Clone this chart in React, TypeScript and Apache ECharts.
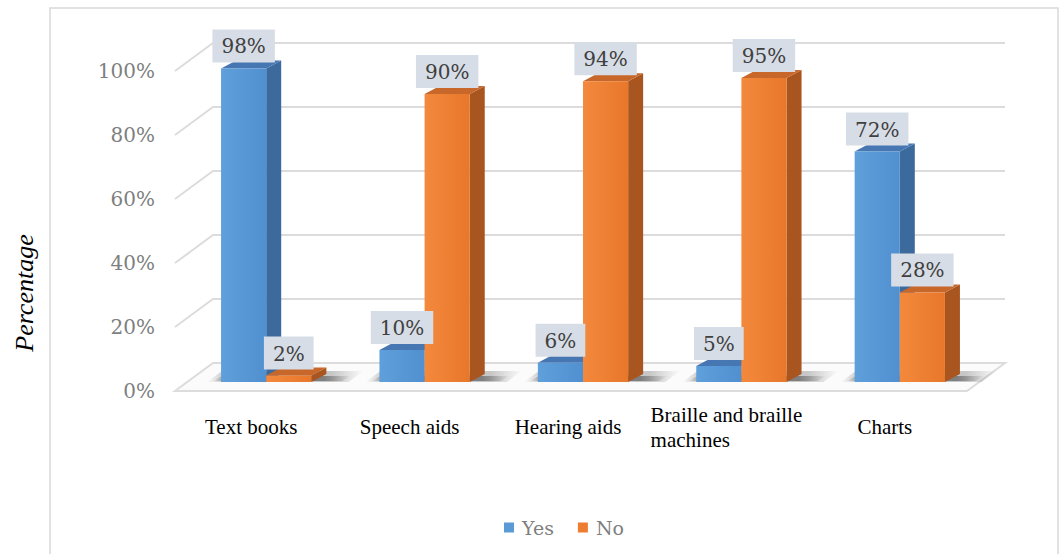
import React, { useEffect, useRef } from 'react';
import * as echarts from 'echarts';

const categories = ['Text books', 'Speech aids', 'Hearing aids', 'Braille and braille\nmachines', 'Charts'];
const yesValues = [98, 10, 6, 5, 72];
const noValues = [2, 90, 94, 95, 28];
const yTicks = [0, 20, 40, 60, 80, 100];
const seriesNames = ['Yes', 'No'];
const axisName = 'Percentage';

const SERIF = 'Liberation Serif';
const WIDE = 'DejaVu Serif';
const COLORS = [
  { front: ['#5f9fdb', '#5090d0'], top: '#4677b3', side: '#3c6a9d', legend: '#5b9bd5' },
  { front: ['#f3893d', '#e8772a'], top: '#c7672a', side: '#a9551f', legend: '#ed7d31' },
];
const DEPTH = { dx: 15, dy: -8 };
const FRONT = { dx: -12, dy: 9 };
const BACK = { dx: 26, dy: -19 };
const GRID_COLOR = '#dcdcdc';

function barGeom(api: any, side: number) {
  const cat = api.value(0);
  const val = api.value(1);
  const band = api.size([1, 0])[0];
  const w = band * 0.285;
  const [cx, yTop] = api.coord([cat, val]);
  const yBase = api.coord([cat, 0])[1];
  const x0 = side === 0 ? cx - w : cx;
  return { x0, x1: x0 + w, yTop, yBase, w, val };
}

export default function App() {
  const ref = useRef<HTMLDivElement>(null);
  useEffect(() => {
    if (!ref.current) return;
    const chart = echarts.init(ref.current, undefined, { renderer: 'svg' });

    const wallRender = (params: any, api: any) => {
      const v = api.value(1);
      const cs = params.coordSys;
      const y = api.coord([0, v])[1];
      const xl = cs.x;
      const xr = cs.x + cs.width;
      if (v === 0) {
        return {
          type: 'polygon',
          shape: {
            points: [
              [xl + FRONT.dx, y + FRONT.dy],
              [xr + FRONT.dx, y + FRONT.dy],
              [xr + BACK.dx, y + BACK.dy],
              [xl + BACK.dx, y + BACK.dy],
            ],
          },
          style: { fill: '#fbfbfb', stroke: GRID_COLOR, lineWidth: 2 },
        };
      }
      return {
        type: 'polyline',
        shape: {
          points: [
            [xl + FRONT.dx, y + FRONT.dy],
            [xl + BACK.dx, y + BACK.dy],
            [xr + BACK.dx, y + BACK.dy],
          ],
        },
        style: { stroke: GRID_COLOR, lineWidth: 2, fill: 'none' },
      };
    };

    const shadowRender = (params: any, api: any) => {
      const cat = api.value(0);
      const band = api.size([1, 0])[0];
      const w = band * 0.285;
      const [cx, yBase] = api.coord([cat, 0]);
      const x0 = cx - w - 14;
      const x1 = cx + w + DEPTH.dx + 22;
      const grad = (a: number) =>
        new echarts.graphic.LinearGradient(0, 0, 1, 0, [
          { offset: 0, color: 'rgba(40,40,40,0)' },
          { offset: 0.12, color: `rgba(40,40,40,${a})` },
          { offset: 0.8, color: `rgba(40,40,40,${a})` },
          { offset: 1, color: 'rgba(40,40,40,0)' },
        ]);
      return {
        type: 'group',
        children: [
          {
            type: 'polygon',
            shape: {
              points: [
                [x0, yBase],
                [x1, yBase],
                [x1 + DEPTH.dx, yBase + DEPTH.dy - 3],
                [x0 + DEPTH.dx, yBase + DEPTH.dy - 3],
              ],
            },
            style: { fill: grad(0.25) },
          },
          {
            type: 'polygon',
            shape: {
              points: [
                [x0 + 6, yBase - 1],
                [x1 - 6, yBase - 1],
                [x1 - 6 + DEPTH.dx * 0.6, yBase - 6],
                [x0 + 6 + DEPTH.dx * 0.6, yBase - 6],
              ],
            },
            style: { fill: grad(0.45) },
          },
        ],
      };
    };

    const makeBarRender = (side: number) => (params: any, api: any) => {
      const g = barGeom(api, side);
      const c = COLORS[side];
      const { x0, x1, yTop, yBase, w } = g;
      return {
        type: 'group',
        children: [
          {
            type: 'polygon',
            shape: {
              points: [
                [x1, yTop],
                [x1 + DEPTH.dx, yTop + DEPTH.dy],
                [x1 + DEPTH.dx, yBase + DEPTH.dy],
                [x1, yBase],
              ],
            },
            style: { fill: c.side },
          },
          {
            type: 'polygon',
            shape: {
              points: [
                [x0, yTop],
                [x1, yTop],
                [x1 + DEPTH.dx, yTop + DEPTH.dy],
                [x0 + DEPTH.dx, yTop + DEPTH.dy],
              ],
            },
            style: { fill: c.top },
          },
          {
            type: 'rect',
            shape: { x: x0, y: yTop, width: w, height: yBase - yTop },
            style: {
              fill: new echarts.graphic.LinearGradient(0, 0, 1, 0, [
                { offset: 0, color: c.front[0] },
                { offset: 1, color: c.front[1] },
              ]),
            },
          },
        ],
      };
    };

    const labelRender = (params: any, api: any) => {
      const side = api.value(2);
      const g = barGeom(api, side);
      return {
        type: 'text',
        x: (g.x0 + g.x1) / 2,
        y: g.yTop - 6,
        style: {
          text: g.val + '%',
          fill: '#404040',
          font: '20px DejaVu Serif',
          align: 'center',
          verticalAlign: 'bottom',
          backgroundColor: '#d7dde6',
          padding: [7, 9, 6, 9],
        },
      };
    };

    const labelData: any[] = [];
    yesValues.forEach((v, i) => labelData.push([i, v, 0]));
    noValues.forEach((v, i) => labelData.push([i, v, 1]));

    chart.setOption({
      animation: false,
      backgroundColor: '#ffffff',
      textStyle: { fontFamily: SERIF },
      graphic: [
        {
          type: 'rect',
          shape: { x: 50, y: 8, width: 1008, height: 600 },
          style: { fill: 'none', stroke: '#d9d9d9', lineWidth: 1.5 },
          silent: true,
        },
        {
          type: 'text',
          x: 24,
          y: 293,
          rotation: Math.PI / 2,
          style: {
            text: axisName,
            fill: '#000000',
            font: 'italic 26px Liberation Serif',
            align: 'center',
            verticalAlign: 'middle',
          },
        },
      ],
      legend: {
        data: seriesNames,
        left: 499,
        top: 513,
        itemWidth: 10,
        itemHeight: 10,
        itemGap: 24,
        icon: 'rect',
        textStyle: { fontFamily: WIDE, fontSize: 19, color: '#7f7f7f', padding: [0, 0, 0, 3] },
      },
      grid: [
        { left: 187, right: 82, top: 62, bottom: 172 },
        { left: 172, right: 97, top: 71, bottom: 163 },
      ],
      xAxis: [
        { type: 'category', data: categories, gridIndex: 0, show: false },
        {
          type: 'category',
          data: categories,
          gridIndex: 1,
          axisLine: { show: false },
          axisTick: { show: false },
          axisLabel: {
            interval: 0,
            margin: 36,
            verticalAlign: 'middle',
            formatter: (v: string) => v.split('\n').map((s) => `{l|${s}}`).join('\n'),
            rich: {
              l: { align: 'left', fontSize: 21, fontFamily: SERIF, color: '#000000', lineHeight: 25 },
            },
          },
        },
      ],
      yAxis: [
        { type: 'value', min: 0, max: 100, gridIndex: 0, show: false },
        {
          type: 'value',
          min: 0,
          max: 100,
          interval: 20,
          gridIndex: 1,
          axisLine: { show: false },
          axisTick: { show: false },
          splitLine: { show: false },
          axisLabel: {
            formatter: '{value}%',
            margin: 17,
            fontSize: 20,
            color: '#7f7f7f',
            fontFamily: WIDE,
          },
        },
      ],
      series: [
        {
          type: 'custom',
          name: 'wall',
          xAxisIndex: 0,
          yAxisIndex: 0,
          z: 0,
          silent: true,
          renderItem: wallRender,
          data: yTicks.map((v) => [0, v]),
        },
        {
          type: 'custom',
          name: 'shadow',
          xAxisIndex: 0,
          yAxisIndex: 0,
          z: 1,
          silent: true,
          renderItem: shadowRender,
          data: categories.map((_, i) => [i, 0]),
        },
        {
          type: 'custom',
          name: seriesNames[0],
          xAxisIndex: 0,
          yAxisIndex: 0,
          z: 2,
          itemStyle: { color: COLORS[0].legend },
          renderItem: makeBarRender(0),
          data: yesValues.map((v, i) => [i, v]),
        },
        {
          type: 'custom',
          name: seriesNames[1],
          xAxisIndex: 0,
          yAxisIndex: 0,
          z: 3,
          itemStyle: { color: COLORS[1].legend },
          renderItem: makeBarRender(1),
          data: noValues.map((v, i) => [i, v]),
        },
        {
          type: 'custom',
          name: 'labels',
          xAxisIndex: 0,
          yAxisIndex: 0,
          z: 5,
          silent: true,
          renderItem: labelRender,
          data: labelData,
        },
      ],
    });
    return () => chart.dispose();
  }, []);
  return (
    <div
      ref={ref}
      style={{ position: 'absolute', left: 0, top: 0, width: 1061, height: 554, background: '#fff' }}
    />
  );
}
